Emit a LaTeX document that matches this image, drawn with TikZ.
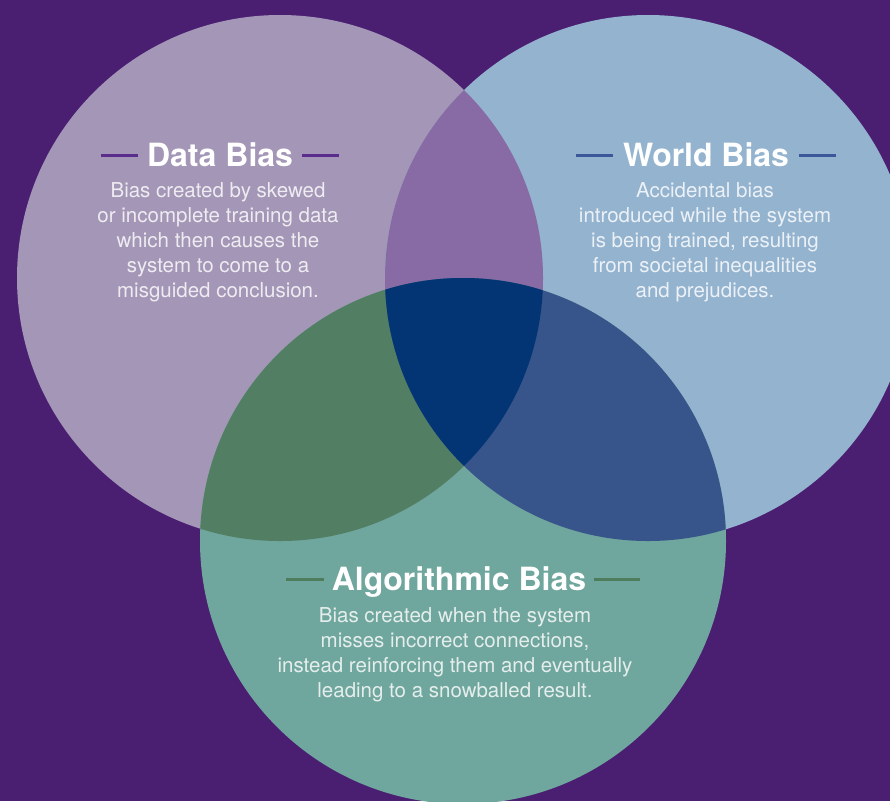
\documentclass[tikz,border=0pt]{standalone}
\usepackage{fontspec}
\setmainfont{TeX Gyre Heros}
\definecolor{bg}{HTML}{4A1F72}
\definecolor{cdata}{HTML}{A396B6}
\definecolor{cworld}{HTML}{93B3CF}
\definecolor{calgo}{HTML}{6FA69D}
\definecolor{cdw}{HTML}{886BA5}
\definecolor{cda}{HTML}{527E63}
\definecolor{cwa}{HTML}{38558B}
\definecolor{call}{HTML}{033574}
\definecolor{ldata}{HTML}{5A2D8C}
\definecolor{lworld}{HTML}{3B579A}
\definecolor{lalgo}{HTML}{4E7D5D}
\tikzset{
  titletext/.style={inner sep=0pt, anchor=base, text=white, font=\bfseries\fontsize{32}{32}\selectfont},
  bodytext/.style={inner sep=0pt, anchor=north, align=center, text=white, text opacity=0.82, font=\fontsize{20.5}{25}\selectfont},
  deco/.style={line width=3pt}
}
\begin{document}
\begin{tikzpicture}[x=1pt,y=-1pt]
\useasboundingbox (0,0) rectangle (890,801);
\fill[bg] (0,0) rectangle (890,801);
% circles
\fill[cdata] (280,278) circle[radius=263];
\fill[cworld] (648,278) circle[radius=263];
\fill[calgo] (463,541) circle[radius=263];
\begin{scope}
  \clip (280,278) circle[radius=263];
  \fill[cdw] (648,278) circle[radius=263];
\end{scope}
\begin{scope}
  \clip (280,278) circle[radius=263];
  \fill[cda] (463,541) circle[radius=263];
\end{scope}
\begin{scope}
  \clip (648,278) circle[radius=263];
  \fill[cwa] (463,541) circle[radius=263];
\end{scope}
\begin{scope}
  \clip (280,278) circle[radius=263];
  \clip (648,278) circle[radius=263];
  \fill[call] (463,541) circle[radius=263];
\end{scope}
% Data Bias
\node[titletext] (dt) at (220,166) {Data Bias};
\draw[deco, ldata] ([xshift=-9pt,yshift=11pt]dt.base west) -- ++(-37,0);
\draw[deco, ldata] ([xshift=9pt,yshift=11pt]dt.base east) -- ++(37,0);
\node[bodytext] (db) at (218,182) {Bias created by skewed\\or incomplete training data\\which then causes the\\system to come to a\\misguided conclusion.};
% World Bias
\node[titletext] (wt) at (706,166) {World Bias};
\draw[deco, lworld] ([xshift=-10pt,yshift=11pt]wt.base west) -- ++(-37,0);
\draw[deco, lworld] ([xshift=10pt,yshift=11pt]wt.base east) -- ++(37,0);
\node[bodytext] (wb) at (705,182) {Accidental bias\\introduced while the system\\is being trained, resulting\\from societal inequalities\\and prejudices.};
% Algorithmic Bias
\node[titletext] (at) at (459,590) {Algorithmic Bias};
\draw[deco, lalgo] ([xshift=-8pt,yshift=11pt]at.base west) -- ++(-38,0);
\draw[deco, lalgo] ([xshift=8pt,yshift=11pt]at.base east) -- ++(46,0);
\node[bodytext] (ab) at (455,607) {Bias created when the system\\misses incorrect connections,\\instead reinforcing them and eventually\\leading to a snowballed result.};
\end{tikzpicture}
\end{document}
